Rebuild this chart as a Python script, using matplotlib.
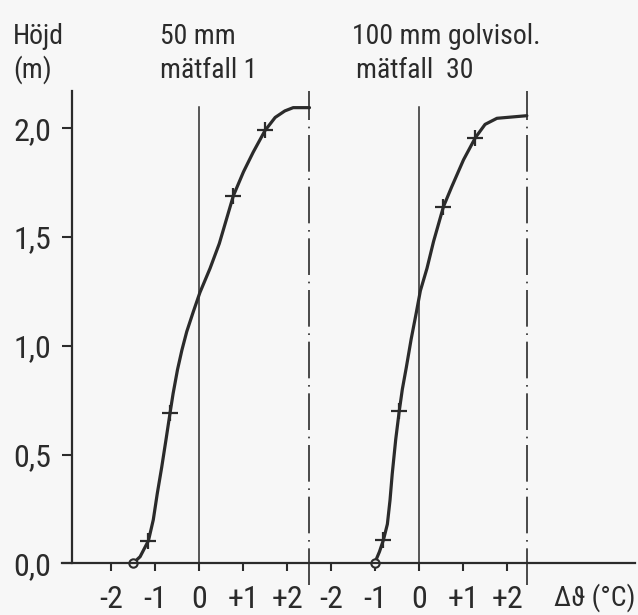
import numpy as np
import matplotlib.pyplot as plt
from matplotlib import font_manager as fm

# narrow lettering if one is installed, DejaVu as fallback
installed = {f.name for f in fm.fontManager.ttflist}
narrow = 'DejaVu Sans'
for cand in ['Liberation Sans Narrow', 'Roboto Condensed', 'Noto Sans Condensed',
             'Open Sans Condensed', 'DejaVu Sans Condensed']:
    if cand in installed:
        narrow = cand
        break
plt.rcParams['font.family'] = [narrow, 'DejaVu Sans']

# Curve 1: 50 mm, mätfall 1 (Δϑ in °C, height in m)
c1_x = [-1.51, -1.35, -1.16, -1.05, -0.96, -0.86, -0.76, -0.67, -0.60, -0.50,
        -0.40, -0.29, -0.14, 0.01, 0.24, 0.45, 0.61, 0.77, 1.00, 1.22,
        1.49, 1.72, 1.94, 2.13, 2.50]
c1_y = [0.0, 0.03, 0.104, 0.20, 0.32, 0.44, 0.57, 0.69, 0.78, 0.89,
        0.98, 1.065, 1.157, 1.245, 1.356, 1.47, 1.58, 1.69, 1.80, 1.89,
        1.99, 2.05, 2.08, 2.095, 2.095]
c1_meas_x = [-1.16, -0.67, 0.77, 1.49]
c1_meas_y = [0.104, 0.69, 1.69, 1.99]
c1_floor = (-1.51, 0.0)

# Curve 2: 100 mm golvisol., mätfall 30
c2_x = [-1.02, -0.91, -0.82, -0.73, -0.67, -0.62, -0.54, -0.46, -0.39, -0.30,
        -0.19, -0.075, 0.02, 0.17, 0.32, 0.545, 0.73, 1.00, 1.27, 1.49,
        1.76, 2.44]
c2_y = [0.0, 0.053, 0.107, 0.18, 0.29, 0.41, 0.57, 0.70, 0.80, 0.90,
        1.03, 1.15, 1.253, 1.356, 1.48, 1.64, 1.73, 1.855, 1.957, 2.018,
        2.046, 2.058]
c2_meas_x = [-0.82, -0.46, 0.545, 1.27]
c2_meas_y = [0.107, 0.70, 1.64, 1.957]
c2_floor = (-1.02, 0.0)

panel_shift = 5.0
panel_ticks = [-2, -1, 0, 1, 2]
panel_ticklabels = ['-2', '-1', '0', '+1', '+2']
y_ticks = [0.0, 0.5, 1.0, 1.5, 2.0]
y_ticklabels = ['0,0', '0,5', '1,0', '1,5', '2,0']

ink = '#2b2b2b'
bg = '#f7f7f7'
fs_title = 20
fs_tick = 23

fig = plt.figure(figsize=(6.38, 6.15), dpi=100, facecolor=bg)
ax = fig.add_axes([0, 0, 1, 1], facecolor=bg)
ax.set_xlim(-4.534, 9.966)
ax.set_ylim(-0.238, 2.590)

for s in ['top', 'right']:
    ax.spines[s].set_visible(False)
ax.spines['left'].set_position(('data', -2.9))
ax.spines['bottom'].set_position(('data', 0.0))
ax.spines['left'].set_bounds(0.0, 2.173)
ax.spines['bottom'].set_bounds(-3.13, 9.9)
for s in ['left', 'bottom']:
    ax.spines[s].set_color(ink)
    ax.spines[s].set_linewidth(1.6)

xt = panel_ticks + [t + panel_shift for t in panel_ticks]
ax.set_xticks(xt)
ax.set_xticklabels(panel_ticklabels * 2)
ax.set_yticks(y_ticks)
ax.set_yticklabels(y_ticklabels)
ax.tick_params(axis='x', direction='out', length=6, width=1.5, color=ink,
               labelsize=fs_tick, labelcolor=ink, pad=10)
ax.tick_params(axis='y', direction='out', length=7, width=1.5, color=ink,
               labelsize=fs_tick, labelcolor=ink, pad=8)

# zero lines and wall lines (dash-dot)
for shift in [0.0, panel_shift]:
    ax.plot([shift, shift], [0.0, 2.10], color=ink, lw=1.1)
ax.plot([2.5, 2.5], [-0.10, 2.173], color=ink, lw=1.2,
        linestyle=(0, (22, 4, 1, 4)))
ax.plot([7.45, 7.45], [-0.10, 2.173], color=ink, lw=1.2,
        linestyle=(0, (22, 4, 1, 4)))

for cx, cy, mx, my, fl, shift in [
        (c1_x, c1_y, c1_meas_x, c1_meas_y, c1_floor, 0.0),
        (c2_x, c2_y, c2_meas_x, c2_meas_y, c2_floor, panel_shift)]:
    ax.plot(np.array(cx) + shift, cy, color=ink, lw=2.3,
            solid_capstyle='round', solid_joinstyle='round')
    ax.plot(np.array(mx) + shift, my, linestyle='none', marker='+',
            markersize=11, mew=1.6, color=ink)
    ax.plot(fl[0] + shift, fl[1], linestyle='none', marker='o',
            markersize=6, mfc=bg, mec=ink, mew=1.5)

def ftext(px, py, s, fs=fs_title, **kw):
    fig.text(px / 638, 1 - py / 615, s, fontsize=fs, color=ink,
             va='center', **kw)

ftext(13, 36, 'Höjd')
ftext(13, 70, '(m)')
ftext(160, 36, '50 mm')
ftext(160, 70, 'mätfall 1')
ftext(352, 36, '100 mm golvisol.')
ftext(356, 70, 'mätfall  30')
ftext(635, 598, 'Δϑ (°C)', fs=20, ha='right')

fig.savefig('out.png', dpi=100, facecolor=bg)
